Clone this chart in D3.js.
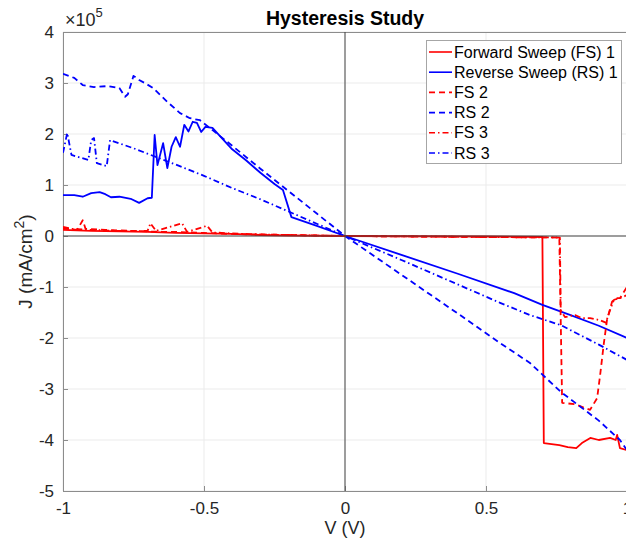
<!DOCTYPE html>
<html>
<head>
<meta charset="utf-8">
<script src="https://cdn.jsdelivr.net/npm/d3@7"></script>
<style>
  body { margin: 0; background: #fff; }
  svg { font-family: "Liberation Sans", Arial, Helvetica, sans-serif; }
</style>
</head>
<body>
<div id="chart"></div>
<script>
// values, J in units of 1e5 mA/cm^2
var fs1 = [[-1.0,0.12],[-0.9,0.10],[-0.8,0.09],[-0.7,0.08],[-0.6,0.06],[-0.5,0.05],[-0.4,0.04],[-0.3,0.02],[-0.2,0.01],[0,0],[0.5,-0.01],[0.70,-0.02],
  [0.705,-4.06],[0.76,-4.1],[0.79,-4.14],[0.82,-4.16],[0.84,-4.06],[0.87,-3.96],[0.90,-4.0],[0.94,-3.96],[0.96,-4.0],[0.965,-3.9],[0.975,-4.16],[1.0,-4.2]];
var rs1 = [[-1.0,0.80],[-0.96,0.80],[-0.93,0.77],[-0.9,0.84],[-0.87,0.86],[-0.85,0.82],[-0.83,0.76],[-0.80,0.77],[-0.76,0.73],[-0.73,0.65],[-0.70,0.74],[-0.685,0.75],
  [-0.675,1.98],[-0.665,1.39],[-0.645,1.82],[-0.63,1.33],[-0.615,1.75],[-0.6,1.94],[-0.585,1.75],[-0.57,2.18],[-0.555,2.05],[-0.54,2.24],[-0.525,2.22],[-0.51,2.04],
  [-0.495,2.14],[-0.47,2.12],[-0.44,1.94],[-0.4,1.70],[-0.35,1.48],[-0.3,1.24],[-0.25,1.02],[-0.22,0.90],[-0.19,0.37],[-0.1,0.2],[0,0],
  [0.2,-0.37],[0.4,-0.74],[0.6,-1.12],[0.7,-1.35],[0.8,-1.55],[0.9,-1.76],[1.0,-2.0]];
var fs2 = [[-1.0,0.15],[-0.95,0.12],[-0.93,0.31],[-0.92,0.14],[-0.85,0.12],[-0.75,0.10],[-0.7,0.09],[-0.65,0.08],[-0.6,0.08],[-0.5,0.06],[-0.4,0.04],[-0.3,0.03],[-0.2,0.02],[0,0],
  [0.5,-0.02],[0.76,-0.03],[0.77,-3.27],[0.816,-3.3],[0.869,-3.41],[0.894,-3.18],[0.904,-2.76],[0.918,-2.1],[0.929,-1.65],[0.947,-1.29],[0.961,-1.22],[0.975,-1.22],[1.0,-1.0]];
var rs2 = [[-1.0,3.18],[-0.96,3.10],[-0.93,2.96],[-0.89,2.92],[-0.84,2.94],[-0.80,2.90],[-0.78,2.73],[-0.77,2.78],[-0.75,3.14],[-0.73,3.06],[-0.71,3.0],[-0.68,2.9],
  [-0.63,2.63],[-0.585,2.41],[-0.55,2.31],[-0.514,2.27],[-0.4,1.77],[-0.3,1.32],[-0.2,0.88],[-0.1,0.44],[0,0],
  [0.2,-0.76],[0.4,-1.52],[0.55,-2.1],[0.656,-2.49],[0.766,-3.06],[0.9,-3.62],[0.975,-4.0],[1.0,-4.2]];
var fs3 = [[-1.0,0.18],[-0.97,0.14],[-0.9,0.12],[-0.8,0.10],[-0.7,0.1],[-0.69,0.25],[-0.67,0.1],[-0.578,0.25],[-0.56,0.08],[-0.489,0.2],[-0.47,0.07],[-0.4,0.05],[-0.3,0.03],[-0.2,0.02],[0,0],
  [0.5,-0.02],[0.762,-0.03],[0.765,-1.45],[0.78,-1.59],[0.816,-1.55],[0.84,-1.61],[0.869,-1.61],[0.904,-1.65],[0.925,-1.7],[0.94,-1.45],[0.954,-1.25],[0.975,-1.22],[1.0,-1.16]];
var rs3 = [[-1.0,1.63],[-0.985,2.02],[-0.97,1.59],[-0.91,1.49],[-0.90,1.88],[-0.89,1.92],[-0.88,1.43],[-0.845,1.37],[-0.833,1.88],[-0.75,1.72],[-0.6,1.4],[-0.5,1.18],
  [-0.4,0.94],[-0.3,0.72],[-0.2,0.48],[-0.1,0.24],[0,0],[0.2,-0.47],[0.4,-0.95],[0.55,-1.31],[0.656,-1.55],[0.766,-1.75],[0.9,-2.13],[1.0,-2.43]];

var seriesNames = ["Forward Sweep (FS) 1", "Reverse Sweep (RS) 1", "FS 2", "RS 2", "FS 3", "RS 3"];
var seriesData = [fs1, rs1, fs2, rs2, fs3, rs3];
var seriesColors = ["#ff0000", "#0000ff", "#ff0000", "#0000ff", "#ff0000", "#0000ff"];
var seriesDash = [null, null, "6,4", "6,4", "6,3,1.5,3", "6,3,1.5,3"];

var xTicks = [-1, -0.5, 0, 0.5, 1];
var yTicks = [-5, -4, -3, -2, -1, 0, 1, 2, 3, 4];

(function() {
  var W = 626, H = 541;
  var pl = 63, pr = 627, pt = 32, pb = 491;

  var svg = d3.select("#chart").append("svg").attr("width", W).attr("height", H);

  var x = d3.scaleLinear().domain([-1, 1]).range([pl, pr]);
  var y = d3.scaleLinear().domain([-5, 4]).range([pb, pt]);

  // grid
  var grid = svg.append("g").attr("stroke", "#ebebeb").attr("stroke-width", 1);
  grid.selectAll("line.gx").data(xTicks).enter().append("line")
    .attr("x1", function(d) { return x(d); }).attr("x2", function(d) { return x(d); })
    .attr("y1", pt).attr("y2", pb);
  grid.selectAll("line.gy").data(yTicks).enter().append("line")
    .attr("x1", pl).attr("x2", pr)
    .attr("y1", function(d) { return y(d); }).attr("y2", function(d) { return y(d); });

  // axes
  var xAxis = d3.axisBottom(x).tickValues(xTicks).tickSizeInner(-5).tickSizeOuter(0).tickPadding(11);
  var yAxis = d3.axisLeft(y).tickValues(yTicks).tickSizeInner(-5).tickSizeOuter(0).tickPadding(9);
  var gx = svg.append("g").attr("transform", "translate(0," + pb + ")").call(xAxis);
  var gy = svg.append("g").attr("transform", "translate(" + pl + ",0)").call(yAxis);
  [gx, gy].forEach(function(g) {
    g.select(".domain").attr("stroke", "#8c8c8c");
    g.selectAll(".tick line").attr("stroke", "#8c8c8c");
    g.selectAll(".tick text").attr("fill", "#262626").style("font-size", "17px")
      .text(function(d) { return String(d); });
  });
  // top border
  svg.append("line").attr("x1", pl).attr("x2", pr).attr("y1", pt + 0.5).attr("y2", pt + 0.5).attr("stroke", "#8c8c8c");

  // data lines
  svg.append("clipPath").attr("id", "clip").append("rect")
    .attr("x", pl).attr("y", pt).attr("width", pr - pl).attr("height", pb - pt);
  var line = d3.line().x(function(d) { return x(d[0]); }).y(function(d) { return y(d[1]); });
  var plot = svg.append("g").attr("clip-path", "url(#clip)");
  plot.selectAll("path").data(seriesData).enter().append("path")
    .attr("d", line)
    .attr("fill", "none")
    .attr("stroke", function(d, i) { return seriesColors[i]; })
    .attr("stroke-dasharray", function(d, i) { return seriesDash[i]; })
    .attr("stroke-width", 1.8)
    .attr("stroke-linejoin", "round");

  // zero lines
  plot.append("line").attr("x1", x(0)).attr("x2", x(0)).attr("y1", pt).attr("y2", pb)
    .attr("stroke", "#404040").attr("stroke-opacity", 0.65).attr("stroke-width", 1.5);
  plot.append("line").attr("x1", pl).attr("x2", pr).attr("y1", y(0)).attr("y2", y(0))
    .attr("stroke", "#404040").attr("stroke-opacity", 0.65).attr("stroke-width", 1.5);

  // title, exponent, labels
  svg.append("text").attr("x", x(0)).attr("y", 25).attr("text-anchor", "middle")
    .style("font-size", "19.5px").style("font-weight", "bold").attr("fill", "#000").text("Hysteresis Study");
  var ex = svg.append("text").attr("x", pl + 2).attr("y", 26).style("font-size", "18px").attr("fill", "#262626");
  ex.append("tspan").text("\u00d710");
  ex.append("tspan").attr("dy", -9).style("font-size", "13px").text("5");

  svg.append("text").attr("x", x(0)).attr("y", 534).attr("text-anchor", "middle")
    .style("font-size", "18px").attr("fill", "#262626").text("V (V)");
  var yl = svg.append("text").attr("transform", "translate(32," + y(-0.5) + ") rotate(-90)")
    .attr("text-anchor", "middle").style("font-size", "19px").attr("fill", "#262626");
  yl.append("tspan").text("J (mA/cm");
  yl.append("tspan").attr("dy", -8).style("font-size", "14px").text("2");
  yl.append("tspan").attr("dy", 8).text(")");

  // legend
  var lg = svg.append("g");
  lg.append("rect").attr("x", 426.5).attr("y", 40.5).attr("width", 195).attr("height", 123)
    .attr("fill", "#fff").attr("stroke", "#a6a6a6");
  var rows = lg.selectAll("g.row").data(seriesNames).enter().append("g")
    .attr("transform", function(d, i) { return "translate(0," + (52 + i * 20.2) + ")"; });
  rows.append("line").attr("x1", 429).attr("x2", 452).attr("y1", 0).attr("y2", 0)
    .attr("stroke", function(d, i) { return seriesColors[i]; })
    .attr("stroke-dasharray", function(d, i) { return seriesDash[i]; })
    .attr("stroke-width", 1.6);
  rows.append("text").attr("x", 454).attr("y", 5.5).style("font-size", "16px").attr("fill", "#000")
    .text(function(d) { return d; });
})();
</script>
</body>
</html>
